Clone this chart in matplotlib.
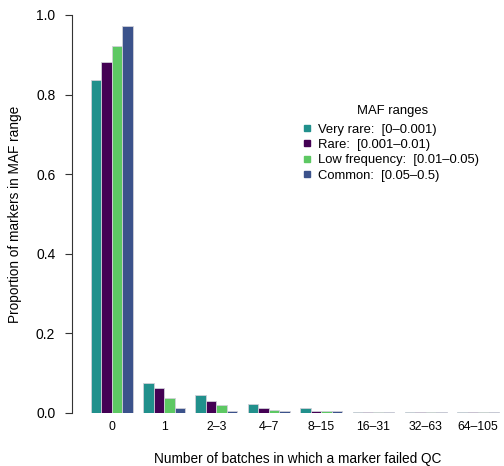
#!/usr/bin/env python3
"""Proportion of markers per MAF range by number of batches failing QC."""
import numpy as np
import matplotlib
matplotlib.use("Agg")
import matplotlib.pyplot as plt
from matplotlib.lines import Line2D

plt.rcParams["font.family"] = ["Liberation Sans", "DejaVu Sans"]

groups = ["0", "1", "2\u20133", "4\u20137", "8\u201315", "16\u201331", "32\u201363", "64\u2013105"]
series = [
    "Very rare:  [0\u20130.001)",
    "Rare:  [0.001\u20130.01)",
    "Low frequency:  [0.01\u20130.05)",
    "Common:  [0.05\u20130.5)",
]
very_rare = [0.837, 0.075, 0.045, 0.023, 0.012, 0.002, 0.002, 0.002]
rare = [0.881, 0.064, 0.030, 0.012, 0.005, 0.002, 0.002, 0.002]
low_freq = [0.922, 0.038, 0.020, 0.008, 0.004, 0.002, 0.002, 0.002]
common = [0.972, 0.012, 0.005, 0.004, 0.004, 0.002, 0.002, 0.002]
colors = ["#21908C", "#440154", "#5DC863", "#3B528B"]

W, H = 504, 466
fig = plt.figure(figsize=(W / 100, H / 100), dpi=100)
# axes placed in pixel terms: y-axis line at x=72, y from 413 (0) to 15 (1)
ax = fig.add_axes([72 / W, 1 - 413 / H, (W - 72) / W, (413 - 15) / H])

# R-style beside barplot: bar width 1, one unit of space before each group
centers = 3 + 5 * np.arange(len(groups))
for i, (vals, c) in enumerate(zip([very_rare, rare, low_freq, common], colors)):
    ax.bar(centers - 1.5 + i, vals, width=1.0, color=c,
           edgecolor="#d0d0d8", linewidth=0.6)

ax.set_xlim((72 - 80.3) / 10.47, (504 - 80.3) / 10.47)
ax.set_ylim(0, 1)
for s in ("top", "right", "bottom"):
    ax.spines[s].set_visible(False)
ax.spines["left"].set_linewidth(0.8)
ax.spines["left"].set_color("#333333")

ax.set_yticks([0, 0.2, 0.4, 0.6, 0.8, 1.0])
ax.set_yticklabels(["0.0", "0.2", "0.4", "0.6", "0.8", "1.0"])
ax.tick_params(axis="y", length=5, width=0.8, color="#333333", pad=7, labelsize=10)
ax.set_xticks(centers)
ax.set_xticklabels(groups)
ax.tick_params(axis="x", length=0, pad=6, labelsize=8.8)

fig.text(15 / W, 1 - 214 / H, "Proportion of markers in MAF range",
         rotation=90, ha="center", va="center", fontsize=9.8)
fig.text(298 / W, 1 - 463 / H, "Number of batches in which a marker failed QC",
         ha="center", va="baseline", fontsize=9.8)

# legend title drawn separately to get R's larger gap above the entries
fig.text(393 / W, 1 - 111 / H, "MAF ranges", ha="center", va="center", fontsize=9.4)
handles = [Line2D([], [], marker="s", linestyle="none", markersize=4.5,
                  markerfacecolor=c, markeredgecolor=c) for c in colors]
fig.legend(handles, series, loc="upper left",
           bbox_to_anchor=(302 / W, 1 - 123.5 / H), frameon=False,
           fontsize=9.4, borderpad=0, borderaxespad=0,
           handlelength=0.8, handletextpad=0.45, labelspacing=0.25)

fig.savefig("out.png", dpi=100)
